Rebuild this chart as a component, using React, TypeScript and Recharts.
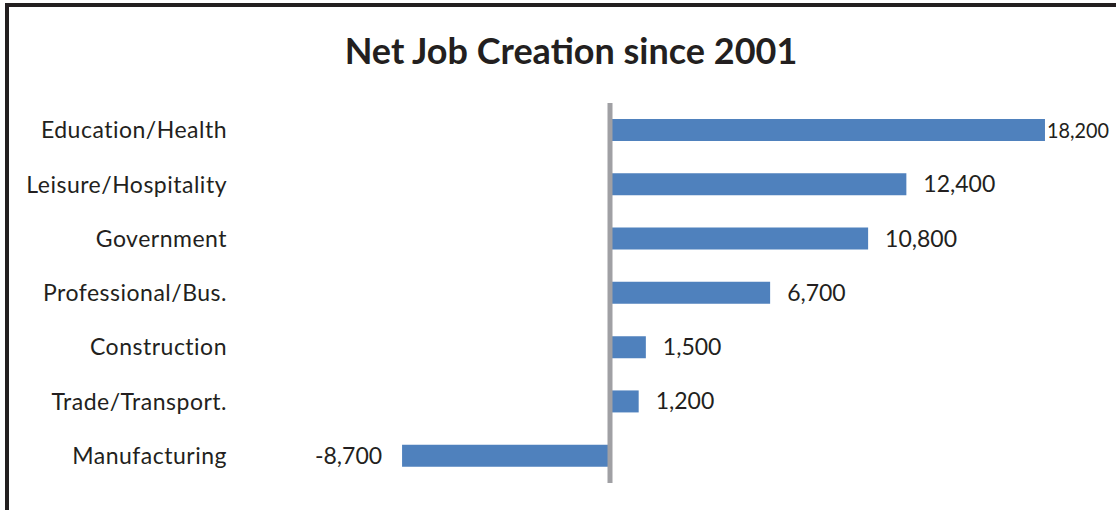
import { BarChart, Bar, XAxis, YAxis, ReferenceLine, LabelList } from "recharts";

const CHART_W = 1116;
const CHART_H = 510;

// categories, top to bottom
const categories = [
  "Education/Health",
  "Leisure/Hospitality",
  "Government",
  "Professional/Bus.",
  "Construction",
  "Trade/Transport.",
  "Manufacturing",
];

const jobs = [18200, 12400, 10800, 6700, 1500, 1200, -8700];

const data = categories.map((name, i) => ({ name, jobs: jobs[i] }));

const FONT = "Lato, 'Open Sans', sans-serif";
const TEXT = "#231f20";

const fmt = (v: number) => v.toLocaleString("en-US");

const ValueLabel = (props: any) => {
  const { x, y, width, height, value } = props;
  if (value == null) return null;
  const x0 = Number(x);
  const w = Number(width);
  const left = Math.min(x0, x0 + w);
  const right = Math.max(x0, x0 + w);
  const cy = Number(y) + Number(height) / 2;
  if (value < 0) {
    return (
      <text x={left - 20} y={cy} dy="0.35em" textAnchor="end" fill={TEXT} fontSize={23} fontFamily={FONT}>
        {fmt(value)}
      </text>
    );
  }
  // near the right edge Excel pulls the label in against the bar end
  if (right + 17 + 72 > CHART_W) {
    return (
      <text
        x={right + 2}
        y={cy}
        dy="0.35em"
        textAnchor="start"
        fill={TEXT}
        fontSize={22}
        fontFamily={FONT}
        textLength={CHART_W - right - 9}
        lengthAdjust="spacingAndGlyphs"
      >
        {fmt(value)}
      </text>
    );
  }
  return (
    <text x={right + 17} y={cy} dy="0.35em" textAnchor="start" fill={TEXT} fontSize={23} fontFamily={FONT}>
      {fmt(value)}
    </text>
  );
};

export default function App() {
  return (
    <div
      style={{
        position: "fixed",
        left: 0,
        top: 0,
        width: CHART_W,
        height: CHART_H,
        overflow: "hidden",
        background: "#fff",
      }}
    >
      {/* frame, cut off on the right and bottom */}
      <div
        style={{
          position: "absolute",
          left: 5,
          top: 3,
          width: 1200,
          height: 600,
          border: "4px solid #231f20",
        }}
      />
      <div
        style={{
          position: "absolute",
          left: 0,
          top: 26,
          width: 1142,
          textAlign: "center",
          fontFamily: FONT,
          fontWeight: 700,
          fontSize: 36,
          color: TEXT,
          lineHeight: "48px",
        }}
      >
        Net Job Creation since 2001
      </div>
      <div style={{ position: "absolute", left: 0, top: 0 }}>
        <BarChart
          width={CHART_W}
          height={CHART_H}
          data={data}
          layout="vertical"
          margin={{ top: 103, right: 28, bottom: 27, left: 0 }}
        >
          <XAxis type="number" domain={[-10000, 20000]} hide />
          <YAxis
            type="category"
            dataKey="name"
            width={371}
            axisLine={false}
            tickLine={false}
            tickSize={0}
            tickMargin={144}
            tick={{ fontSize: 23, fill: TEXT, fontFamily: FONT, letterSpacing: 0.5 }}
            interval={0}
          />
          <Bar dataKey="jobs" fill="#4F81BD" barSize={22} isAnimationActive={false}>
            <LabelList dataKey="jobs" content={ValueLabel} />
          </Bar>
          <ReferenceLine x={0} stroke="#A0A0A4" strokeWidth={5} />
        </BarChart>
      </div>
    </div>
  );
}
